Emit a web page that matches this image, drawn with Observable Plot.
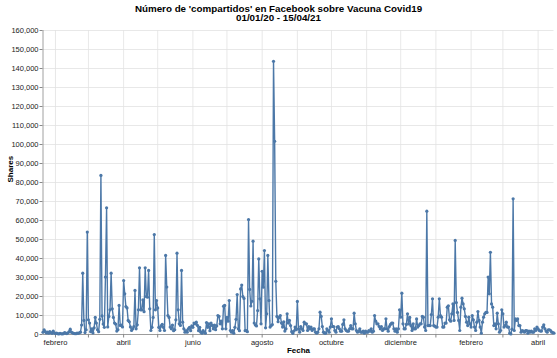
<!DOCTYPE html>
<html>
<head>
<meta charset="utf-8">
<script src="https://cdn.jsdelivr.net/npm/d3@7"></script>
<script src="https://cdn.jsdelivr.net/npm/@observablehq/plot@0.6"></script>
<style>
  html, body { margin: 0; padding: 0; background: #fff; }
  #wrap { position: relative; width: 557px; height: 358px; font-family: "Liberation Sans", Arial, sans-serif; }
  #title { position: absolute; top: 3.5px; left: 0; width: 557px; text-align: center; font-weight: bold; font-size: 9.8px; line-height: 9.5px; color: #000; }
</style>
</head>
<body>
<div id="wrap">
  <div id="chart"></div>
  <div id="title">Número de 'compartidos' en Facebook sobre Vacuna Covid19<br>01/01/20 - 15/04/21</div>
</div>
<script>
// First day of the series (one value per day from here on)
const startDate = "2020-01-21";

// Daily Facebook shares
const shares = [
  1200, 2500, 1500, 800, 1200, 700, 1500, 1000, 600, 1800,
  900, 500, 800, 400, 300, 600, 400, 300, 500, 1000,
  700, 500, 900, 1500, 2800, 1200, 900, 600, 500, 400,
  700, 600, 900, 1200, 5000, 32300, 7400, 1000, 2500, 53900,
  7700, 6000, 1500, 3000, 800, 3500, 9000, 6000, 2500, 1500,
  8000, 83700, 9800, 5500, 3800, 30200, 66700, 4000, 9500, 13000,
  32300, 13500, 9000, 6000, 5500, 1800, 2500, 15300, 4800, 5000,
  4000, 28400, 21400, 14700, 14000, 7400, 6700, 4000, 2100, 3000,
  4200, 23200, 3000, 5100, 13000, 35100, 13000, 13000, 18200, 12000,
  35100, 20000, 19600, 33700, 13500, 2100, 3800, 9000, 52600, 13000,
  17900, 14000, 3800, 2100, 4500, 5400, 3800, 2100, 41600, 25000,
  10000, 9000, 3900, 3000, 5000, 2000, 2500, 7700, 42800, 13000,
  5600, 4800, 33700, 6500, 3000, 1200, 2000, 1200, 3000, 3800,
  2000, 4500, 3800, 6000, 5600, 6500, 4800, 2000, 3800, 1200,
  700, 2000, 1200, 700, 6300, 3800, 5600, 2000, 6000, 4800,
  3000, 5000, 2500, 4500, 10000, 9500, 5600, 7000, 3000, 14900,
  15300, 3000, 9000, 7000, 17900, 2100, 1200, 2100, 700, 3800,
  8000, 21000, 3000, 2000, 24000, 26000, 20000, 19000, 2000, 2000,
  1500, 60500, 23700, 15000, 17500, 49100, 6000, 5000, 4500, 12600,
  39800, 18800, 5600, 33300, 24900, 44200, 3500, 10900, 41600, 17900,
  3900, 4700, 5200, 143800, 101700, 28000, 9500, 6700, 9000, 10000,
  6000, 3900, 6700, 1800, 3000, 10900, 6000, 7400, 4700, 1500,
  600, 1800, 3900, 2500, 17400, 3000, 1200, 4200, 3000, 2100,
  6500, 5600, 5600, 2100, 4200, 3000, 3900, 2100, 3000, 3000,
  1200, 700, 1200, 3000, 11750, 9500, 4200, 1200, 700, 700,
  3000, 2100, 1200, 3900, 8250, 4200, 4200, 2100, 1200, 3900,
  4200, 3000, 1750, 1750, 5300, 7700, 3000, 2100, 1750, 1750,
  3000, 4700, 3000, 3000, 11200, 5600, 2100, 1200, 1750, 3000,
  1200, 1200, 1750, 700, 1750, 1200, 1200, 2100, 1750, 3000,
  1200, 1750, 10000, 7000, 5600, 5600, 4200, 3000, 4200, 2100,
  3000, 3000, 8250, 3000, 1750, 4200, 5300, 6000, 6000, 3000,
  1750, 3000, 1200, 3000, 13000, 9100, 21750, 5600, 3000, 3000,
  5300, 10900, 5600, 9000, 4700, 2100, 5600, 3000, 3000, 8200,
  3900, 4700, 5600, 5600, 9500, 9100, 3900, 2100, 64900, 4700,
  4700, 4700, 10500, 18800, 4700, 4400, 3900, 3900, 9100, 18800,
  10000, 9100, 3900, 3900, 6000, 6000, 14400, 15100, 7700, 7000,
  10900, 16100, 7400, 49500, 16800, 11600, 7400, 2100, 14400, 19100,
  16100, 13500, 9500, 6500, 4700, 9100, 5600, 3900, 10000, 7700,
  3900, 2100, 6500, 12100, 7400, 3900, 700, 6500, 9100, 10900,
  11600, 11600, 30200, 21400, 43300, 16100, 14400, 4700, 5600, 3000,
  11200, 5600, 1200, 2100, 13000, 10900, 3900, 4700, 6500, 3900,
  3900, 700, 300, 2800, 71400, 2100, 8200, 7400, 8200, 4700,
  4700, 1200, 2100, 1800, 1200, 2100, 2100, 700, 1800, 1200,
  1800, 1200, 1200, 3000, 2100, 3900, 3000, 2100, 1800, 1800,
  3900, 5100, 3000, 1800, 1200, 2500, 2500, 2100, 1200, 1000,
  700
];

// Axis tick values and labels
const yTicks = [0, 10000, 20000, 30000, 40000, 50000, 60000, 70000, 80000, 90000,
                100000, 110000, 120000, 130000, 140000, 150000, 160000];
const monthTicks = ["2020-02-01","2020-03-01","2020-04-01","2020-05-01","2020-06-01","2020-07-01",
                    "2020-08-01","2020-09-01","2020-10-01","2020-11-01","2020-12-01","2021-01-01",
                    "2021-02-01","2021-03-01","2021-04-01"];
const labelDates = ["2020-02-01","2020-04-01","2020-06-01","2020-08-01","2020-10-01","2020-12-01","2021-02-01","2021-04-01"];
const labelNames = ["febrero","abril","junio","agosto","octubre","diciembre","febrero","abril"];

const t0 = new Date(startDate + "T00:00:00Z");
const data = shares.map((v, i) => ({date: d3.utcDay.offset(t0, i), shares: v}));
const monthTickDates = monthTicks.map(s => new Date(s + "T00:00:00Z"));
const labelTickDates = labelDates.map(s => new Date(s + "T00:00:00Z"));
const nameByTime = new Map(labelTickDates.map((d, i) => [+d, labelNames[i]]));

const blue = "#4c78a8";
const chart = Plot.plot({
  width: 557,
  height: 358,
  marginLeft: 42.5,
  marginRight: 3.5,
  marginTop: 30,
  marginBottom: 24,
  style: {fontFamily: "'Liberation Sans', Arial, sans-serif", fontSize: "7.5px", background: "#fff", overflow: "visible"},
  x: {type: "utc", domain: d3.extent(data, d => d.date)},
  y: {domain: [0, 160000]},
  marks: [
    Plot.gridY(yTicks, {stroke: "#e2e2e2", strokeOpacity: 1, strokeWidth: 0.8}),
    Plot.gridX(monthTickDates, {stroke: "#e2e2e2", strokeOpacity: 1, strokeWidth: 0.8}),
    Plot.axisY(yTicks, {tickSize: 3, tickPadding: 1.5, tickFormat: d3.format(","), stroke: "#888", fill: "#222", label: null}),
    Plot.axisX(monthTickDates, {tickSize: 3.5, tickFormat: () => "", stroke: "#888", label: null}),
    Plot.axisX(labelTickDates, {tickSize: 0, tickPadding: 5, tickFormat: d => nameByTime.get(+d), fill: "#222", label: null}),
    Plot.ruleY([0], {stroke: "#888", strokeWidth: 0.8}),
    Plot.ruleX([data[0].date], {stroke: "#888", strokeWidth: 0.8}),
    Plot.line(data, {x: "date", y: "shares", stroke: blue, strokeWidth: 1.4}),
    Plot.dot(data, {x: "date", y: "shares", r: 1.6, fill: blue, stroke: "none"}),
    Plot.text(["Shares"], {frameAnchor: "left", dx: -33, rotate: -90, fontWeight: "bold", fontSize: 8, fill: "#000"}),
    Plot.text(["Fecha"], {frameAnchor: "bottom", dy: 18, fontWeight: "bold", fontSize: 8, fill: "#000"})
  ]
});
document.getElementById("chart").appendChild(chart);
</script>
</body>
</html>
